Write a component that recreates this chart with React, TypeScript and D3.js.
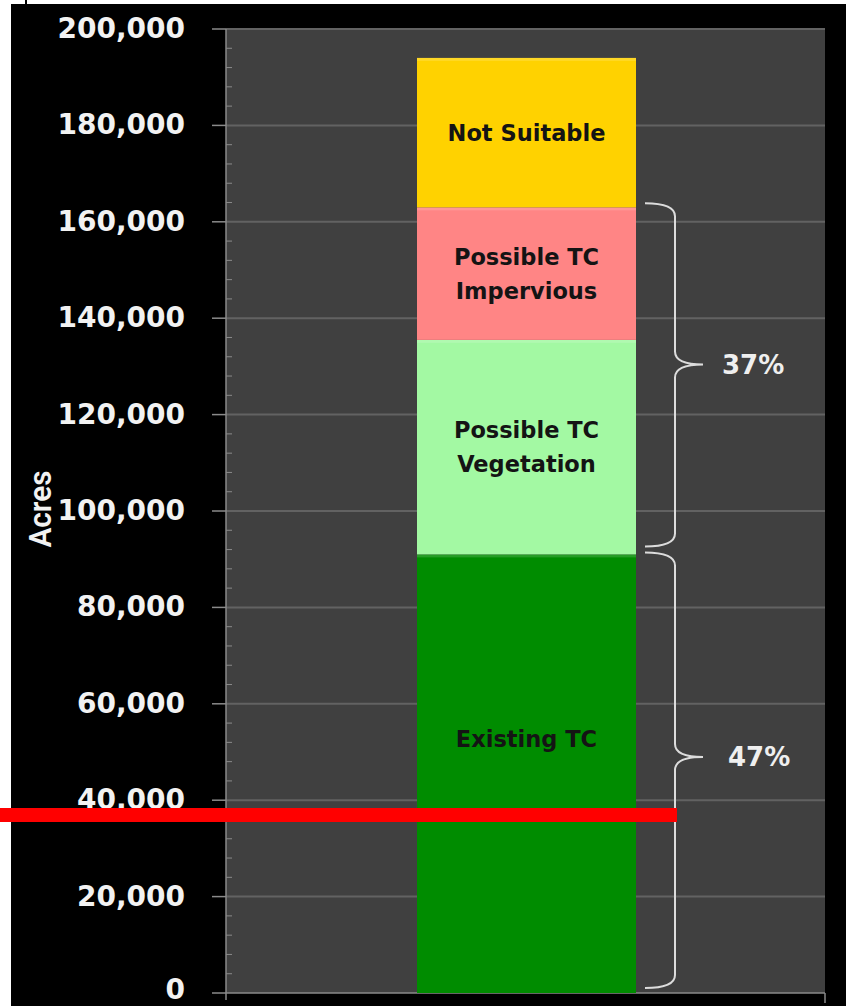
import React from "react";
import * as d3 from "d3";

// stacked segments, bottom to top (acres)
const segNames = ["Existing TC", "Possible TC Vegetation", "Possible TC Impervious", "Not Suitable"];
const segLines = [["Existing TC"], ["Possible TC", "Vegetation"], ["Possible TC", "Impervious"], ["Not Suitable"]];
const segValues = [91000, 44500, 27500, 31000];
const segColors = ["#008c00", "#a3f9a3", "#ff8585", "#ffd200"];
const yTicks = [0, 20000, 40000, 60000, 80000, 100000, 120000, 140000, 160000, 180000, 200000];
const braceGroups = [[1, 2], [0]]; // indexes of segments under each brace

const W = 846;
const H = 1006;
const plot = { left: 226, right: 825, top: 29, bottom: 993 };

const App = () => {
  const y = d3.scaleLinear().domain([0, 200000]).range([plot.bottom, plot.top]);
  const total = d3.sum(segValues);
  const stacked = segValues.map((v, i) => {
    const y0 = d3.sum(segValues.slice(0, i));
    return { y0, y1: y0 + v };
  });
  const minor = d3.range(0, 200001, 4000).filter(v => v % 20000 !== 0);
  const fmt = d3.format(",");
  const barX0 = 417;
  const barX1 = 636;

  const bracePath = (ya: number, yb: number) => {
    const x0 = 645, xv = 675, xt = 703, r = 13;
    const ym = ya + (yb - ya) * 0.47;
    return `M${x0},${ya} Q${xv},${ya} ${xv},${ya + r} L${xv},${ym - r} Q${xv},${ym} ${xt},${ym} ` +
      `Q${xv},${ym} ${xv},${ym + r} L${xv},${yb - r} Q${xv},${yb} ${x0},${yb}`;
  };

  return (
    <svg width={W} height={H} style={{ position: "absolute", left: 0, top: 0 }}
      fontFamily="'DejaVu Sans', Verdana, sans-serif">
      <rect x={0} y={0} width={W} height={H} fill="#fff" />
      <rect x={11} y={4} width={W - 11} height={H - 4} fill="#000" />
      <rect x={25} y={0} width={2} height={5} fill="#000" />
      <rect x={plot.left} y={plot.top} width={plot.right - plot.left} height={plot.bottom - plot.top} fill="#404040" />

      {/* gridlines */}
      {yTicks.slice(1).map(t => (
        <line key={t} x1={plot.left} x2={plot.right} y1={y(t)} y2={y(t)} stroke="#626262" strokeWidth={2} />
      ))}

      {/* y axis */}
      <line x1={plot.left} x2={plot.left} y1={plot.top} y2={plot.bottom + 7} stroke="#8a8a8a" strokeWidth={1.5} />
      {yTicks.map(t => (
        <g key={t}>
          <line x1={212} x2={plot.left} y1={y(t)} y2={y(t)} stroke="#8a8a8a" strokeWidth={1.5} />
          <text x={185} y={Math.min(y(t) + 9, 999)} textAnchor="end" fill="#f2f2f2" fontSize={28} fontWeight="bold">
            {fmt(t)}
          </text>
        </g>
      ))}
      {minor.map(t => (
        <line key={t} x1={plot.left} x2={plot.left + 6} y1={y(t)} y2={y(t)} stroke="#8a8a8a" strokeWidth={1} />
      ))}
      <line x1={plot.left} x2={plot.right} y1={plot.bottom} y2={plot.bottom} stroke="#8a8a8a" strokeWidth={1.5} />
      <line x1={plot.right} x2={plot.right} y1={plot.bottom} y2={plot.bottom + 10} stroke="#8a8a8a" strokeWidth={1.5} />

      <text transform={`translate(51,509) rotate(-90)`} textAnchor="middle" fill="#f2f2f2" fontSize={31}
        fontWeight={600} fontFamily="Roboto, sans-serif" textLength={77} lengthAdjust="spacingAndGlyphs">
        Acres
      </text>

      {/* stacked bar */}
      {stacked.map((s, i) => (
        <g key={segNames[i]}>
          <rect x={barX0} y={y(s.y1)} width={barX1 - barX0} height={y(s.y0) - y(s.y1)} fill={segColors[i]} />
          <rect x={barX0} y={y(s.y1)} width={barX1 - barX0} height={3} fill="#fff" opacity={0.15} />
        </g>
      ))}
      {stacked.map((s, i) => {
        const cy = y((s.y0 + s.y1) / 2) + (i === 0 ? -35 : 0);
        const lines = segLines[i];
        return (
          <text key={segNames[i]} x={(barX0 + barX1) / 2} textAnchor="middle" fill="#141414" fontSize={22.5}
            fontWeight="bold">
            {lines.map((l, j) => (
              <tspan key={l} x={(barX0 + barX1) / 2} y={cy + (j - (lines.length - 1) / 2) * 34} dy="0.36em">{l}</tspan>
            ))}
          </text>
        );
      })}

      {/* braces */}
      {braceGroups.map((g, k) => {
        const lo = d3.min(g, i => stacked[i].y0) as number;
        const hi = d3.max(g, i => stacked[i].y1) as number;
        const ya = y(hi) - (k === 0 ? 4 : 2);
        const yb = y(lo) - (k === 0 ? 8 : 5);
        const pct = Math.round((d3.sum(g, i => segValues[i]) / total) * 100);
        const ym = ya + (yb - ya) * 0.47;
        return (
          <g key={k}>
            <path d={bracePath(ya, yb)} fill="none" stroke="#dcdcdc" strokeWidth={2} />
            <text x={k === 0 ? 722 : 728} y={ym} dy="0.36em" fill="#efefef" fontSize={26} fontWeight="bold">
              {pct}%
            </text>
          </g>
        );
      })}

      {/* red marker line */}
      <rect x={0} y={808} width={677} height={14} fill="#ff0000" />
    </svg>
  );
};

export default App;
